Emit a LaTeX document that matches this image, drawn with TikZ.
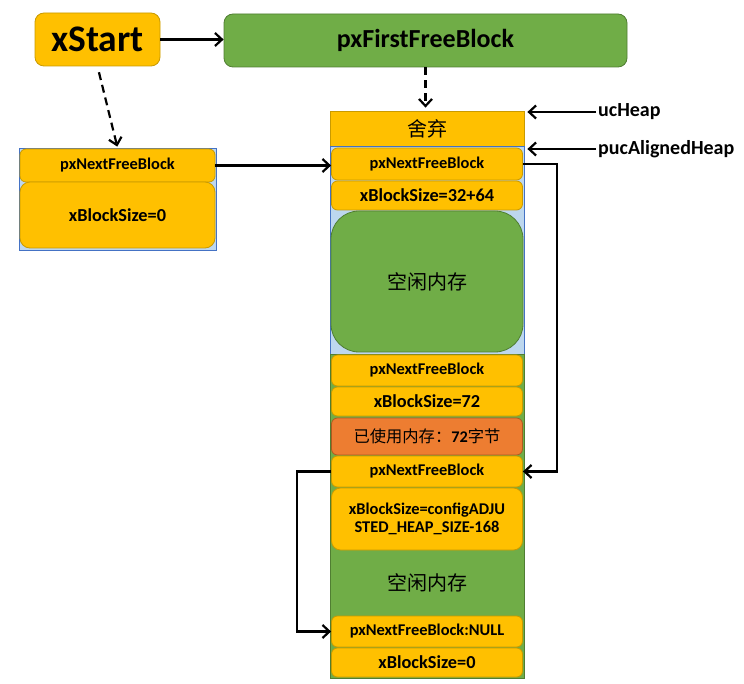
\documentclass[tikz,border=0pt]{standalone}
\usepackage{fontspec}
\setmainfont{Carlito}
\newfontfamily\cjk{Noto Sans CJK SC}
\usetikzlibrary{arrows.meta}
\definecolor{gold}{HTML}{FFC000}
\definecolor{goldd}{HTML}{C99A00}
\definecolor{grn}{HTML}{70AD47}
\definecolor{grnd}{HTML}{507E32}
\definecolor{org}{HTML}{ED7D31}
\definecolor{orgd}{HTML}{AE5A21}
\definecolor{lblue}{HTML}{BDD7EE}
\definecolor{bblue}{HTML}{4472C4}
\begin{document}
\begin{tikzpicture}[x=1pt,y=-1pt,
 fld/.style={draw=goldd,fill=gold,rounded corners=6pt,line width=0.8pt,inner sep=0pt,
   minimum width=191pt,font=\bfseries\fontsize{16.4}{18}\selectfont,align=center},
 szf/.style={font=\bfseries\fontsize{18.3}{20}\selectfont},
 greenbox/.style={draw=grnd,fill=grn,line width=0.8pt,inner sep=0pt},
 bluebox/.style={draw=bblue,fill=lblue,line width=0.8pt,inner sep=0pt},
 arr/.style={line width=2.2pt,-{Straight Barb[length=7pt,width=13pt,line width=2.2pt]}},
 lbl/.style={font=\bfseries\fontsize{20}{22}\selectfont,anchor=west,inner sep=0pt},
 cjkf/.style={font=\cjk\fontsize{20}{22}\selectfont}
]
\useasboundingbox (0,0) rectangle (744,684);

% top nodes
\node[fld,rounded corners=9pt,minimum width=125pt,minimum height=53pt,font=\bfseries\fontsize{37.5}{40}\selectfont] (xstart) at (97.5,39.5) {xStart};
\node[greenbox,rounded corners=9pt,minimum width=403pt,minimum height=53pt,font=\bfseries\fontsize{26}{28}\selectfont] (first) at (425.5,40.5) {pxFirstFreeBlock};

% left block
\node[bluebox,minimum width=197pt,minimum height=102pt] (lblk) at (117.5,199) {};
\node[fld,minimum width=195pt,minimum height=33pt] (lpx) at (117.5,165.5) {pxNextFreeBlock};
\node[fld,szf,rounded corners=10pt,minimum width=195pt,minimum height=66pt] (lsz) at (117.5,215) {xBlockSize=0};

% heap column
\node[fld,cjkf,rounded corners=0pt,minimum width=194pt,minimum height=35pt] (discard) at (427,128.5) {舍弃};
\node[bluebox,minimum width=194pt,minimum height=208pt] (blue) at (427,250) {};
\node[greenbox,minimum width=194pt,minimum height=324pt] (grnrect) at (427,516) {};

\node[fld,minimum height=32pt] (h1) at (427,164) {pxNextFreeBlock};
\node[fld,szf,minimum height=29pt] (h2) at (427,195.5) {xBlockSize=32+64};
\node[greenbox,cjkf,rounded corners=28pt,minimum width=192pt,minimum height=141pt] (free1) at (427,281.5) {空闲内存};
\node[fld,minimum height=31pt] (h3) at (427,370.5) {pxNextFreeBlock};
\node[fld,szf,minimum height=29pt] (h4) at (427,401.5) {xBlockSize=72};
\node[fld,draw=orgd,fill=org,minimum height=37pt,font=\fontsize{16.3}{18}\selectfont] (used) at (427,436.5) {{\cjk 已使用内存：}\textbf{72}{\cjk 字节}};
\node[fld,minimum height=31pt] (h5) at (427,471.5) {pxNextFreeBlock};
\node[fld,rounded corners=9pt,minimum height=62pt,font=\bfseries\fontsize{16.4}{18.5}\selectfont] (h6) at (427,519) {xBlockSize=configADJU\\STED\_HEAP\_SIZE-168};
\node[cjkf,inner sep=0pt] (free2) at (427,583) {空闲内存};
\node[fld,minimum height=31pt] (h7) at (427,631.5) {pxNextFreeBlock:NULL};
\node[fld,szf,minimum height=29pt] (h8) at (427,662.5) {xBlockSize=0};

% labels
\node[lbl] (uc) at (598,112) {ucHeap};
\node[lbl] (puc) at (598,149) {pucAlignedHeap};

% connectors
\draw[arr] (xstart.east) -- (xstart.east -| first.west);
\draw[arr,dashed,dash pattern=on 8pt off 5pt,shorten >=3pt] (first.south) -- (first.south |- discard.north);
\draw[arr,dashed,dash pattern=on 8pt off 5pt,shorten <=6pt,shorten >=1pt] (xstart.south) -- (lblk.north);
\draw[arr] (lpx.east) -- (lpx.east -| h1.west);
\draw[arr,shorten <=2pt,shorten >=3pt] (uc.west) -- (uc.west -| discard.east);
\draw[arr,shorten <=2pt,shorten >=3pt] (puc.west) -- (puc.west -| blue.east);
\draw[arr] (h1.east) -- ++(34,0) |- (h5.east);
\draw[arr] (h5.west) -- ++(-34,0) |- (h7.west);
\end{tikzpicture}
\end{document}
